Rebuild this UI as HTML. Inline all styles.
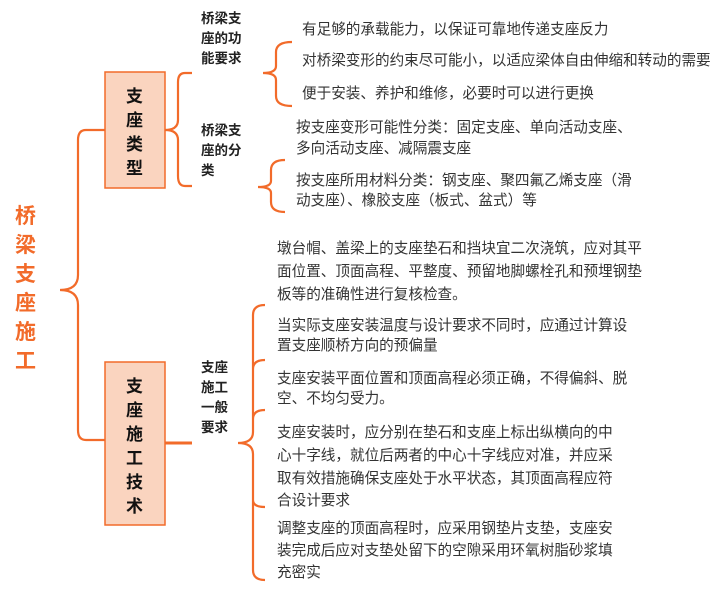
<!DOCTYPE html>
<html><head><meta charset="utf-8"><style>
html,body{margin:0;padding:0;background:#fff;}
svg{display:block;}
text{font-family:"Liberation Sans","Noto Sans CJK SC",sans-serif;fill:#333;font-size:14.6px;}
.b{font-weight:bold;fill:#222;font-size:13.5px;}
.bx{font-weight:bold;fill:#111;font-size:17px;}
.t{font-weight:bold;fill:#f26b2a;font-size:21px;}
path{fill:none;stroke:#f26b2a;stroke-width:2.2;}
</style></head><body>
<svg width="716" height="605" viewBox="0 0 716 605" xmlns="http://www.w3.org/2000/svg">
<!-- main title -->
<g class="t">
<text class="t" x="15" y="223">桥</text>
<text class="t" x="15" y="252">梁</text>
<text class="t" x="15" y="281">支</text>
<text class="t" x="15" y="310">座</text>
<text class="t" x="15" y="339">施</text>
<text class="t" x="15" y="368">工</text>
</g>
<!-- main brace -->
<path d="M105 130 H86 Q78 130 78 140 V275 Q78 290 60 290 Q78 290 78 305 V430 Q78 440 86 440 H105"/>
<!-- boxes -->
<rect x="105" y="72" width="60" height="116" fill="#fad4bf" stroke="#f26b2a" stroke-width="1.5"/>
<rect x="105" y="362" width="60" height="163" fill="#fad4bf" stroke="#f26b2a" stroke-width="1.5"/>
<text class="bx" x="126" y="102">支</text>
<text class="bx" x="126" y="126">座</text>
<text class="bx" x="126" y="150">类</text>
<text class="bx" x="126" y="174">型</text>
<text class="bx" x="126" y="392">支</text>
<text class="bx" x="126" y="416">座</text>
<text class="bx" x="126" y="440">施</text>
<text class="bx" x="126" y="464">工</text>
<text class="bx" x="126" y="488">技</text>
<text class="bx" x="126" y="512">术</text>
<!-- box1 brace -->
<path d="M192 73 H185 Q178 73 178 82 V120 Q178 130 165 130 Q178 130 178 140 V176 Q178 186 185 186 H192"/>
<text class="b" x="201" y="23">桥梁支</text>
<text class="b" x="201" y="43">座的功</text>
<text class="b" x="201" y="63">能要求</text>
<text class="b" x="201" y="135">桥梁支</text>
<text class="b" x="201" y="155">座的分</text>
<text class="b" x="201" y="175">类</text>
<!-- small brace 1 -->
<path d="M292 42 Q276 42 276 52 V66 Q276 73 263 73 Q276 73 276 80 V96 Q276 106 292 106"/>
<text x="302" y="34">有足够的承载能力，以保证可靠地传递支座反力</text>
<text x="302" y="65">对桥梁变形的约束尽可能小，以适应梁体自由伸缩和转动的需要</text>
<text x="302" y="98">便于安装、养护和维修，必要时可以进行更换</text>
<!-- small brace 2 -->
<path d="M285 160 Q271 160 271 170 V181 Q271 187 258 187 Q271 187 271 193 V202 Q271 212 285 212"/>
<text x="296" y="132">按支座变形可能性分类：固定支座、单向活动支座、</text>
<text x="296" y="153">多向活动支座、减隔震支座</text>
<text x="296" y="185">按支座所用材料分类：钢支座、聚四氟乙烯支座（滑</text>
<text x="296" y="205">动支座）、橡胶支座（板式、盆式）等</text>
<text x="277" y="253">墩台帽、盖梁上的支座垫石和挡块宜二次浇筑，应对其平</text>
<text x="277" y="276">面位置、顶面高程、平整度、预留地脚螺栓孔和预埋钢垫</text>
<text x="277" y="299">板等的准确性进行复核检查。</text>
<!-- box2 connector -->
<path d="M165 443 H192" style="stroke-width:3"/>
<text class="b" x="201" y="372">支座</text>
<text class="b" x="201" y="392">施工</text>
<text class="b" x="201" y="412">一般</text>
<text class="b" x="201" y="432">要求</text>
<!-- big brace -->
<path d="M265 305 Q253 305 253 315 V432 Q253 443 238 443 Q253 443 253 454 V570 Q253 580 265 580 M253 369 Q253 360 265 360 M253 419 Q253 410 265 410 M253 500 Q253 507 265 507"/>
<text x="277" y="330">当实际支座安装温度与设计要求不同时，应通过计算设</text>
<text x="277" y="350">置支座顺桥方向的预偏量</text>
<text x="277" y="383">支座安装平面位置和顶面高程必须正确，不得偏斜、脱</text>
<text x="277" y="403">空、不均匀受力。</text>
<text x="277" y="437">支座安装时，应分别在垫石和支座上标出纵横向的中</text>
<text x="277" y="460">心十字线，就位后两者的中心十字线应对准，并应采</text>
<text x="277" y="483">取有效措施确保支座处于水平状态，其顶面高程应符</text>
<text x="277" y="505">合设计要求</text>
<text x="277" y="533">调整支座的顶面高程时，应采用钢垫片支垫，支座安</text>
<text x="277" y="555">装完成后应对支垫处留下的空隙采用环氧树脂砂浆填</text>
<text x="277" y="577">充密实</text>
</svg>
</body></html>
